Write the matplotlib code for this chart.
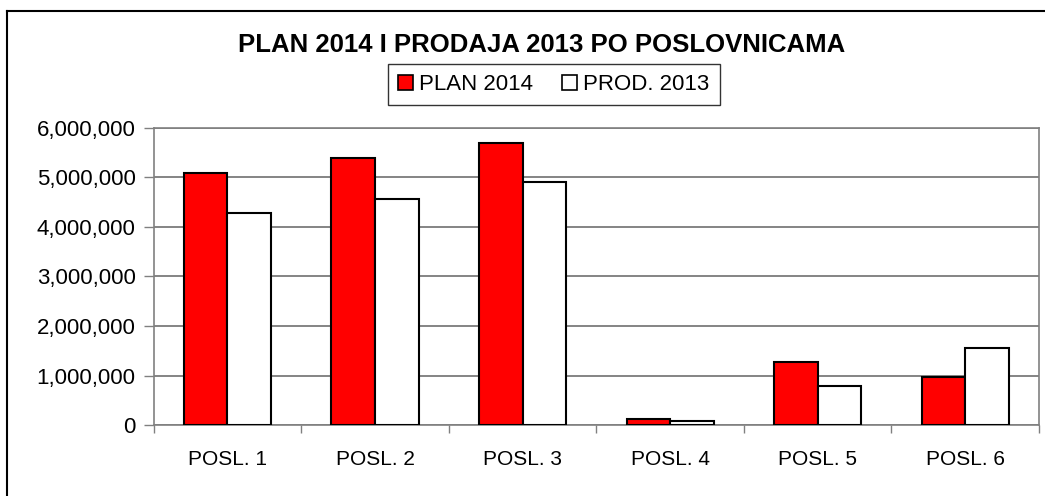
import numpy as np
import matplotlib.pyplot as plt
from matplotlib.lines import Line2D
from matplotlib.patches import Patch
from matplotlib.ticker import FuncFormatter

plt.rcParams['font.family'] = ['Liberation Sans', 'DejaVu Sans']

# podaci
kategorije = ["POSL. 1", "POSL. 2", "POSL. 3", "POSL. 4", "POSL. 5", "POSL. 6"]
plan_2014 = [5090000, 5390000, 5700000, 113000, 1280000, 980000]
prod_2013 = [4290000, 4560000, 4910000, 73000, 795000, 1550000]

fig = plt.figure(figsize=(10.45, 4.96), dpi=100)
ax = fig.add_axes([0.147, 0.1431, 0.8473, 0.5989])

x = np.arange(len(kategorije))
w = 0.295
ax.bar(x - w / 2, plan_2014, w, color="#ff0000", edgecolor="black", linewidth=1.5, zorder=3)
ax.bar(x + w / 2, prod_2013, w, color="white", edgecolor="black", linewidth=1.5, zorder=3)

ax.set_xlim(-0.5, len(kategorije) - 0.5)
ax.set_ylim(0, 6000000)
ax.set_yticks(np.arange(0, 6000001, 1000000))
ax.yaxis.set_major_formatter(FuncFormatter(lambda v, p: f"{int(v):,}"))
ax.grid(axis="y", color="#707070", linewidth=1.2, zorder=0)

ax.set_xticks(x)
ax.set_xticklabels(kategorije)
ax.set_xticks(np.arange(-0.5, len(kategorije)), minor=True)
ax.tick_params(axis="x", which="major", length=0, pad=18, labelsize=15)
ax.tick_params(axis="x", which="minor", length=6, width=1, color="#808080")
ax.tick_params(axis="y", length=7, width=1, color="#808080", labelsize=16, pad=6)

for s in ax.spines.values():
    s.set_color("#808080")
    s.set_linewidth(1.2)

fig.text(0.518, 0.909, "PLAN 2014 I PRODAJA 2013 PO POSLOVNICAMA",
         ha="center", va="center", fontsize=18.5, fontweight="bold")

handles = [Patch(facecolor="#ff0000", edgecolor="black", linewidth=1.2),
           Patch(facecolor="white", edgecolor="black", linewidth=1.2)]
leg = fig.legend(handles, ["PLAN 2014", "PROD. 2013"], ncol=2, loc="center",
                 bbox_to_anchor=(0.530, 0.829), fontsize=16, frameon=True,
                 fancybox=False, edgecolor="black", handlelength=0.65,
                 handleheight=0.65, handletextpad=0.3, columnspacing=1.3,
                 borderpad=0.45)
leg.get_frame().set_linewidth(1.0)

# okvir grafikona
fig.add_artist(Line2D([7 / 1045, 7 / 1045], [0, 1 - 11 / 496], color="black", linewidth=1.5))
fig.add_artist(Line2D([7 / 1045, 1], [1 - 11 / 496, 1 - 11 / 496], color="black", linewidth=1.5))

fig.savefig("out.png", dpi=100)
